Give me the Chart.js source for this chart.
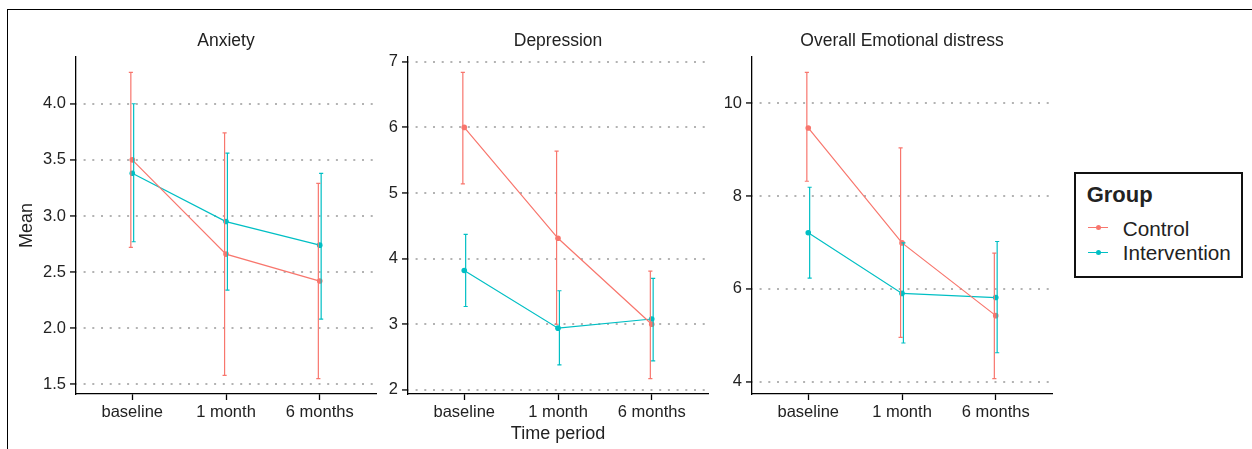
<!DOCTYPE html>
<html>
<head>
<meta charset="utf-8">
<title>Mean scores by group over time</title>
<script src="https://cdn.jsdelivr.net/npm/chart.js@4.4.1/dist/chart.umd.min.js"></script>
<style>
  html, body { margin: 0; padding: 0; background: #fff; }
  body { width: 1252px; height: 449px; position: relative; overflow: hidden;
         font-family: "Liberation Sans", Arial, sans-serif; color: #222; }
  .frame { position: absolute; left: 7px; top: 9px; right: -20px; bottom: -20px;
           border-left: 1.5px solid #000; border-top: 1.5px solid #000; }
  canvas { position: absolute; top: 0; }
  #legend { position: absolute; left: 1074px; top: 172px; width: 169px; height: 106px;
            box-sizing: border-box; border: 2px solid #111; background: #fff; }
  #legend .title { position: absolute; left: 10.7px; top: 10.1px; font-size: 22px; line-height: 22px;
                   font-weight: bold; white-space: nowrap; }
  #legend .label { position: absolute; left: 46.7px; font-size: 20.7px; line-height: 20.7px; white-space: nowrap; }
  #legend .key { position: absolute; left: 12.3px; width: 20px; height: 1.3px; }
  #legend .dot { position: absolute; left: 7.6px; top: -2px; width: 5.2px; height: 5.2px; border-radius: 50%; }
</style>
</head>
<body>
<div class="frame"></div>
<canvas id="anxiety" width="390" height="449" style="left:0px"></canvas>
<canvas id="depression" width="345" height="449" style="left:380px"></canvas>
<canvas id="distress" width="345" height="449" style="left:720px"></canvas>
<div id="legend"></div>

<script>
// Time points on the x axis
const categories = ['baseline', '1 month', '6 months'];
const groups = ['Control', 'Intervention'];
const groupColors = ['#F8766D', '#00BFC4'];

// Anxiety: means and error-bar limits
const anxietyControlMean = [3.50, 2.66, 2.42];
const anxietyControlLow = [2.72, 1.58, 1.55];
const anxietyControlHigh = [4.28, 3.74, 3.29];
const anxietyInterventionMean = [3.38, 2.95, 2.74];
const anxietyInterventionLow = [2.77, 2.34, 2.08];
const anxietyInterventionHigh = [4.00, 3.56, 3.38];

// Depression
const depressionControlMean = [6.00, 4.31, 3.00];
const depressionControlLow = [5.14, 3.00, 2.17];
const depressionControlHigh = [6.84, 5.64, 3.81];
const depressionInterventionMean = [3.82, 2.94, 3.08];
const depressionInterventionLow = [3.27, 2.38, 2.44];
const depressionInterventionHigh = [4.37, 3.51, 3.70];

// Overall emotional distress
const distressControlMean = [9.47, 6.99, 5.42];
const distressControlLow = [8.32, 4.95, 4.06];
const distressControlHigh = [10.67, 9.04, 6.77];
const distressInterventionMean = [7.21, 5.90, 5.81];
const distressInterventionLow = [6.23, 4.83, 4.62];
const distressInterventionHigh = [8.19, 6.99, 7.02];

// Y tick values per panel
const anxietyTicks = [1.5, 2.0, 2.5, 3.0, 3.5, 4.0];
const depressionTicks = [2, 3, 4, 5, 6, 7];
const distressTicks = [4, 6, 8, 10];

const TEXT = '#222';
const CAP = 0.022;             // half width of error-bar caps (x units)
const DODGE = [-0.015, 0.015]; // small horizontal offset of each group's bars

Chart.defaults.font.family = '"Liberation Sans", Arial, sans-serif';
Chart.defaults.color = TEXT;

function meanSeries(means) {
  return means.map((v, i) => ({ x: i, y: v }));
}

// Vertical bar plus top/bottom caps for every time point, broken by gaps
function errorBarSeries(low, high, shift) {
  const pts = [];
  low.forEach((lo, i) => {
    const hi = high[i];
    const x = i + shift;
    pts.push({ x, y: lo }, { x, y: hi }, { x, y: null });
    pts.push({ x: x - CAP, y: hi }, { x: x + CAP, y: hi }, { x, y: null });
    pts.push({ x: x - CAP, y: lo }, { x: x + CAP, y: lo }, { x, y: null });
  });
  return pts;
}

// Range of the data with a 5% margin either side
function paddedRange(lows, highs) {
  const lo = Math.min(...lows.flat());
  const hi = Math.max(...highs.flat());
  const pad = (hi - lo) * 0.05;
  return { min: lo - pad, max: hi + pad };
}

function makePanel(cfg) {
  const range = paddedRange(cfg.low, cfg.high);
  const datasets = [];
  groups.forEach((g, k) => {
    datasets.push({
      label: g,
      data: errorBarSeries(cfg.low[k], cfg.high[k], DODGE[k]),
      showLine: true,
      spanGaps: false,
      borderColor: groupColors[k],
      borderWidth: 1.2,
      pointRadius: 0,
      pointHitRadius: 0,
      tension: 0
    });
  });
  groups.forEach((g, k) => {
    datasets.push({
      label: g,
      data: meanSeries(cfg.mean[k]),
      showLine: true,
      borderColor: groupColors[k],
      backgroundColor: groupColors[k],
      borderWidth: 1.2,
      pointRadius: 2.8,
      pointBorderWidth: 0,
      pointBackgroundColor: groupColors[k],
      tension: 0
    });
  });

  return new Chart(document.getElementById(cfg.id), {
    type: 'scatter',
    data: { datasets },
    options: {
      responsive: false,
      animation: false,
      events: [],
      layout: { padding: { left: 0, right: cfg.padRight, top: 0, bottom: 0 } },
      plugins: {
        legend: { display: false },
        tooltip: { enabled: false },
        title: {
          display: true,
          text: cfg.title,
          fullSize: false,
          color: TEXT,
          font: { size: 17.5, weight: 'normal' },
          padding: { top: 31, bottom: 5 }
        }
      },
      scales: {
        x: {
          type: 'linear',
          min: -0.6,
          max: 2.6,
          afterBuildTicks: s => { s.ticks = categories.map((_, i) => ({ value: i })); },
          afterFit: s => { s.height = 55; },
          ticks: {
            callback: v => categories[Math.round(v)],
            autoSkip: false, maxRotation: 0, minRotation: 0,
            padding: 2.8, color: TEXT, font: { size: 16.5 }
          },
          grid: { drawOnChartArea: false, drawTicks: true, tickLength: 6,
                  tickColor: '#000', tickWidth: 1.3, color: '#000' },
          border: { display: true, color: '#000', width: 1.3 },
          title: cfg.xTitle
            ? { display: true, text: cfg.xTitle, color: TEXT, font: { size: 18 }, padding: { top: 0, bottom: 4 } }
            : { display: false }
        },
        y: {
          type: 'linear',
          min: range.min,
          max: range.max,
          afterBuildTicks: s => { s.ticks = cfg.ticks.map(v => ({ value: v })); },
          afterFit: s => { s.width = cfg.axisWidth; },
          ticks: {
            callback: v => v.toFixed(cfg.decimals),
            padding: 4, color: TEXT, font: { size: 16.5 }
          },
          grid: { color: '#b3b3b3', lineWidth: 1.9, drawTicks: true, tickLength: 6,
                  tickColor: '#000', tickWidth: 1.3 },
          border: { display: true, color: '#000', width: 1.3, dash: [2, 6.7], dashOffset: 1.4 },
          title: cfg.yTitle
            ? { display: true, text: cfg.yTitle, color: TEXT, font: { size: 18 }, padding: { top: 16, bottom: 0 } }
            : { display: false }
        }
      }
    }
  });
}

makePanel({
  id: 'anxiety', title: 'Anxiety',
  mean: [anxietyControlMean, anxietyInterventionMean],
  low: [anxietyControlLow, anxietyInterventionLow],
  high: [anxietyControlHigh, anxietyInterventionHigh],
  ticks: anxietyTicks, decimals: 1,
  yTitle: 'Mean', axisWidth: 76, padRight: 14
});

makePanel({
  id: 'depression', title: 'Depression',
  mean: [depressionControlMean, depressionInterventionMean],
  low: [depressionControlLow, depressionInterventionLow],
  high: [depressionControlHigh, depressionInterventionHigh],
  ticks: depressionTicks, decimals: 0,
  xTitle: 'Time period', axisWidth: 28, padRight: 17
});

makePanel({
  id: 'distress', title: 'Overall Emotional distress',
  mean: [distressControlMean, distressInterventionMean],
  low: [distressControlLow, distressInterventionLow],
  high: [distressControlHigh, distressInterventionHigh],
  ticks: distressTicks, decimals: 0,
  axisWidth: 32, padRight: 13
});

// Group legend
const legend = document.getElementById('legend');
const head = document.createElement('div');
head.className = 'title';
head.textContent = 'Group';
legend.appendChild(head);
groups.forEach((g, k) => {
  const rowTop = 44.5 + k * 24.8;
  const key = document.createElement('div');
  key.className = 'key';
  key.style.top = (rowTop + 8.6) + 'px';
  key.style.background = groupColors[k];
  const dot = document.createElement('div');
  dot.className = 'dot';
  dot.style.background = groupColors[k];
  key.appendChild(dot);
  legend.appendChild(key);
  const label = document.createElement('div');
  label.className = 'label';
  label.style.top = rowTop + 'px';
  label.textContent = g;
  legend.appendChild(label);
});
</script>
</body>
</html>
